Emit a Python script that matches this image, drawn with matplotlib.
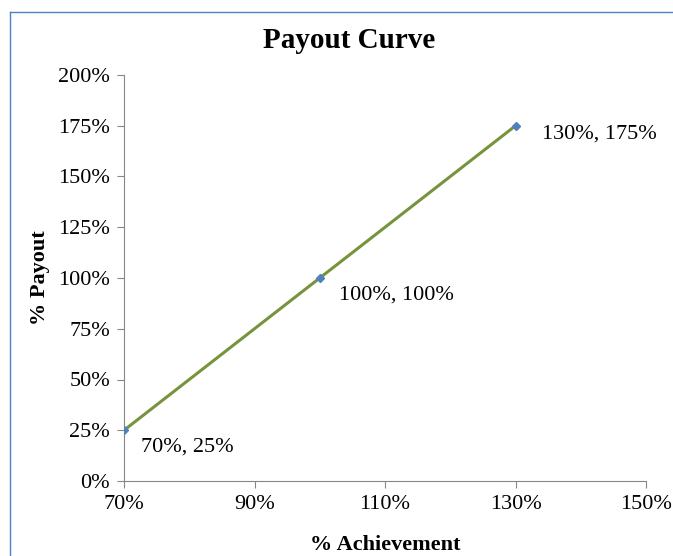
import matplotlib.pyplot as plt
from matplotlib.lines import Line2D
from matplotlib.ticker import FuncFormatter

achievement = [70, 100, 130]
payout = [25, 100, 175]
point_labels = ['70%, 25%', '100%, 100%', '130%, 175%']
label_offsets = [(12, -12), (14, -12), (19, -6)]

plt.rcParams['font.family'] = ['Liberation Serif', 'DejaVu Serif']

fig = plt.figure(figsize=(6.73, 5.56), dpi=100)
ax = fig.add_axes([124 / 673, 1 - 481 / 556, 522 / 673, 406 / 556])

ax.plot(achievement, payout, color='#77933C', lw=2.2, zorder=2)
ax.plot(achievement, payout, ls='none', marker='D', ms=4, color='#4F81BD', zorder=3)

for x, y, txt, off in zip(achievement, payout, point_labels, label_offsets):
    ax.annotate(txt, (x, y), xytext=off, textcoords='offset points',
                fontsize=16, va='center', ha='left')

ax.set_xlim(70, 150)
ax.set_ylim(0, 200)
ax.set_xticks([70, 90, 110, 130, 150])
ax.set_yticks(range(0, 201, 25))
pct = FuncFormatter(lambda v, p: f'{v:.0f}%')
ax.xaxis.set_major_formatter(pct)
ax.yaxis.set_major_formatter(pct)

for s in ['top', 'right']:
    ax.spines[s].set_visible(False)
for s in ['left', 'bottom']:
    ax.spines[s].set_color('#868686')
    ax.spines[s].set_linewidth(0.8)
ax.tick_params(direction='out', length=5, width=0.8, color='#868686',
               labelsize=16, pad=5)

ax.set_xlabel('% Achievement', fontsize=16, fontweight='bold', labelpad=15)
ax.set_ylabel('% Payout', fontsize=16, fontweight='bold', labelpad=6)
fig.text(349 / 673, 1 - 40 / 556, 'Payout Curve', fontsize=21, fontweight='bold',
         ha='center', va='center')

# chart area border (only top and left visible in the crop)
fig.add_artist(Line2D([10 / 673, 1], [1 - 12 / 556, 1 - 12 / 556],
                      transform=fig.transFigure, color='#4F81BD', lw=1))
fig.add_artist(Line2D([10 / 673, 10 / 673], [0, 1 - 12 / 556],
                      transform=fig.transFigure, color='#4F81BD', lw=1))

fig.savefig('out.png', dpi=100)
